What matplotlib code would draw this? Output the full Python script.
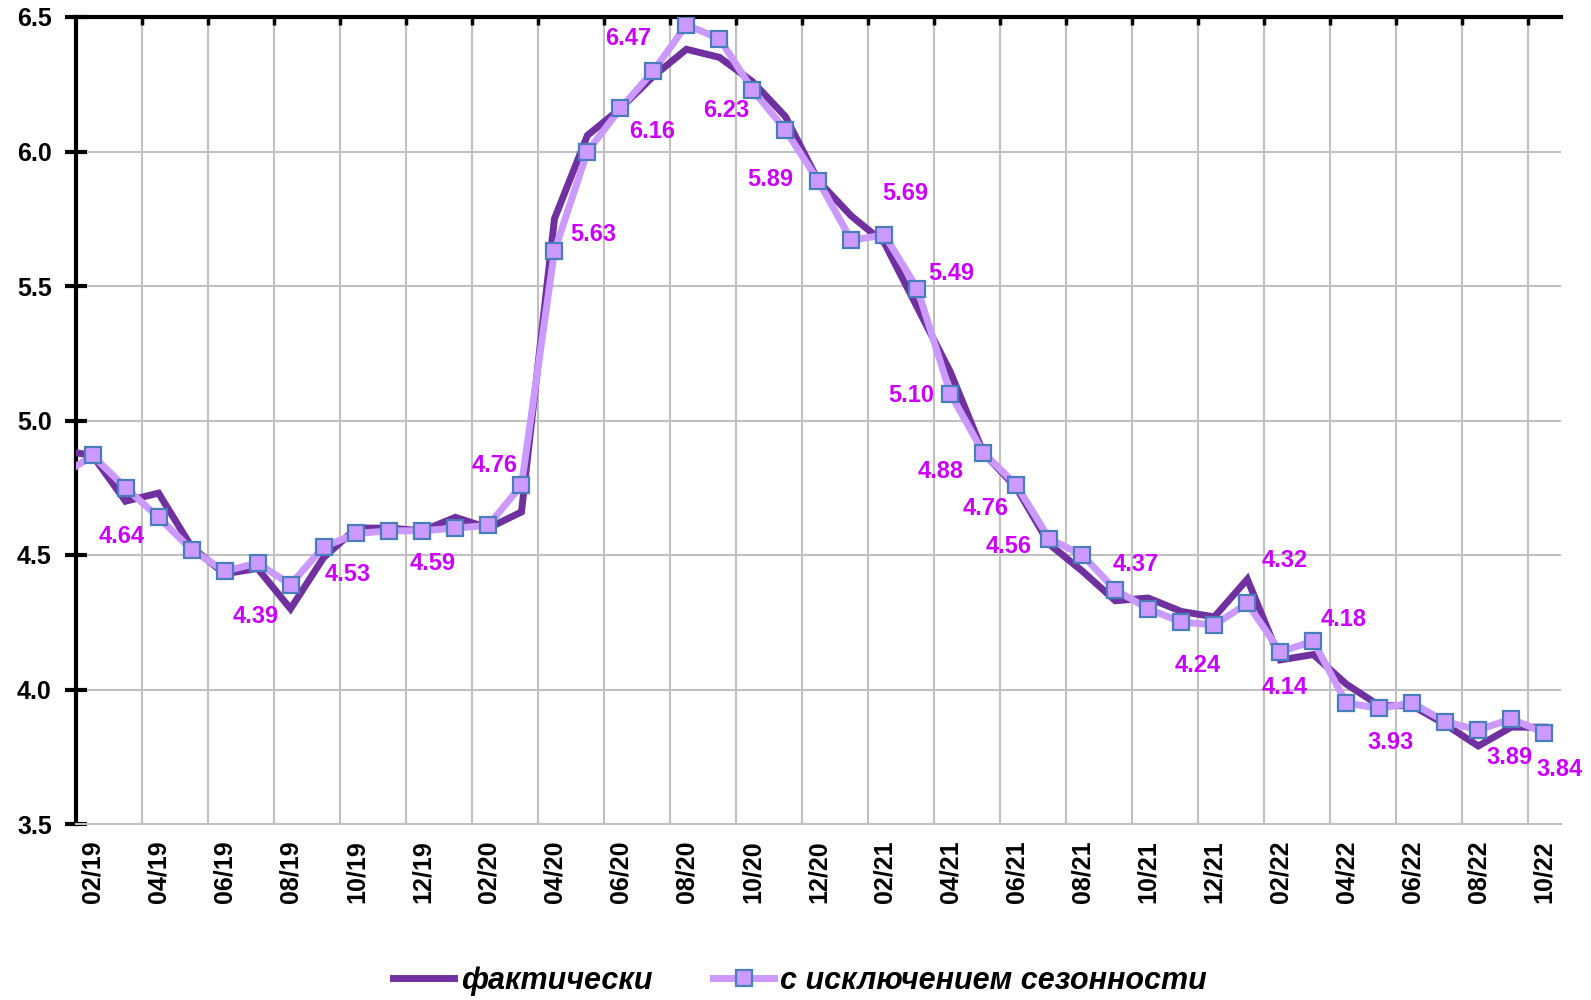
"""
Unemployment rate: actual vs seasonally adjusted, 01/19 - 10/22
"""

import numpy as np
import matplotlib.pyplot as plt
from matplotlib.ticker import FixedLocator, FormatStrFormatter

# Months (the first one sits just outside the left edge of the axis)
months = ["01/19", "02/19", "03/19", "04/19", "05/19", "06/19", "07/19", "08/19",
          "09/19", "10/19", "11/19", "12/19",
          "01/20", "02/20", "03/20", "04/20", "05/20", "06/20", "07/20", "08/20",
          "09/20", "10/20", "11/20", "12/20",
          "01/21", "02/21", "03/21", "04/21", "05/21", "06/21", "07/21", "08/21",
          "09/21", "10/21", "11/21", "12/21",
          "01/22", "02/22", "03/22", "04/22", "05/22", "06/22", "07/22", "08/22",
          "09/22", "10/22"]

# Actual values
actual = [4.89, 4.87, 4.70, 4.73, 4.53, 4.43, 4.45, 4.30, 4.49, 4.60, 4.60, 4.59,
          4.64, 4.60, 4.66, 5.75, 6.06, 6.16, 6.28, 6.38, 6.35, 6.26, 6.13, 5.89,
          5.76, 5.66, 5.42, 5.18, 4.88, 4.75, 4.54, 4.44, 4.33, 4.34, 4.29, 4.27,
          4.41, 4.11, 4.13, 4.02, 3.94, 3.94, 3.87, 3.79, 3.86, 3.86]

# Seasonally adjusted values
adjusted = [4.79, 4.87, 4.75, 4.64, 4.52, 4.44, 4.47, 4.39, 4.53, 4.58, 4.59, 4.59,
            4.60, 4.61, 4.76, 5.63, 6.00, 6.16, 6.30, 6.47, 6.42, 6.23, 6.08, 5.89,
            5.67, 5.69, 5.49, 5.10, 4.88, 4.76, 4.56, 4.50, 4.37, 4.30, 4.25, 4.24,
            4.32, 4.14, 4.18, 3.95, 3.93, 3.95, 3.88, 3.85, 3.89, 3.84]

series_names = ["фактически", "с исключением сезонности"]

# Which adjusted points get a value label, and where the label goes (pixels)
label_offsets = {
    3: (-37, -19), 7: (-35, -32), 8: (24, -28), 11: (10, -33), 14: (-27, 20),
    15: (39, 17), 17: (32, -23), 19: (-58, -13), 21: (-26, -21), 23: (-48, 2),
    25: (21, 41), 26: (34, 15), 27: (-39, -2), 28: (-43, -19), 29: (-31, -23),
    30: (-41, -8), 32: (20, 25), 35: (-17, -41), 36: (37, 43), 37: (4, -36),
    38: (30, 22), 40: (11, -34), 44: (-2, -38), 45: (15, -37),
}

plt.rcParams["font.family"] = ["Liberation Sans", "DejaVu Sans"]
plt.rcParams["font.weight"] = "bold"

DARK = "#7030A0"
LIGHT = "#CC99FF"
GRID = "#C0C0C0"
LABEL = "#CC00FF"


def plot_chart():

    x = np.arange(len(months))

    fig = plt.figure(figsize=(15.91, 10), dpi=100)
    ax = fig.add_axes([0.0478, 0.176, 0.9332, 0.807])

    # Lines
    ax.plot(x, actual, color=DARK, lw=5, solid_joinstyle="miter",
            label=series_names[0], zorder=3)
    ax.plot(x, adjusted, color=LIGHT, lw=5, marker="s", markersize=11.5,
            markerfacecolor=LIGHT, markeredgecolor="#4A7EBB", markeredgewidth=1.6,
            label=series_names[1], zorder=4)

    # Value labels
    for i, (dx, dy) in label_offsets.items():
        ax.annotate(f"{adjusted[i]:.2f}", (x[i], adjusted[i]), xytext=(dx, dy),
                    textcoords="offset pixels", ha="center", va="center",
                    color=LABEL, fontsize=17, fontweight="bold", zorder=5)

    # Axes ranges
    ax.set_xlim(0.5, len(months) - 0.5)
    ax.set_ylim(3.5, 6.5)

    # X ticks: labels every two months, grid between categories
    ax.xaxis.set_major_locator(FixedLocator(x[1::2]))
    ax.set_xticklabels(months[1::2], rotation=90, fontsize=18, fontweight="bold")
    ax.xaxis.set_minor_locator(FixedLocator(np.arange(2.5, len(months) - 1, 2)))
    ax.tick_params(axis="x", which="major", length=0, pad=12)
    ax.tick_params(axis="x", which="minor", bottom=False, top=True,
                   direction="in", length=6, width=2.5, color="black")
    ax.grid(axis="x", which="minor", color=GRID, lw=1.5, zorder=0)

    # Y ticks
    ax.set_yticks(np.arange(3.5, 6.51, 0.5))
    ax.yaxis.set_major_formatter(FormatStrFormatter("%.1f"))
    ax.tick_params(axis="y", direction="inout", length=16, width=3,
                   labelsize=18, pad=9.5)
    ax.grid(axis="y", color=GRID, lw=1.5, zorder=0)
    ax.set_axisbelow(True)

    # Spines
    ax.spines["left"].set_linewidth(3)
    ax.spines["top"].set_linewidth(3)
    ax.spines["bottom"].set_color(GRID)
    ax.spines["bottom"].set_linewidth(1.5)
    ax.spines["right"].set_visible(False)

    # Legend
    fig.legend(loc="center", bbox_to_anchor=(0.503, 0.019), ncol=2, frameon=False,
               prop={"size": 22, "weight": "bold", "style": "italic"},
               handlelength=2.0, handletextpad=0.2, columnspacing=2.0)

    fig.savefig("out.png", dpi=100)


def main():

    plot_chart()


if (__name__ == "__main__"):
    main()
